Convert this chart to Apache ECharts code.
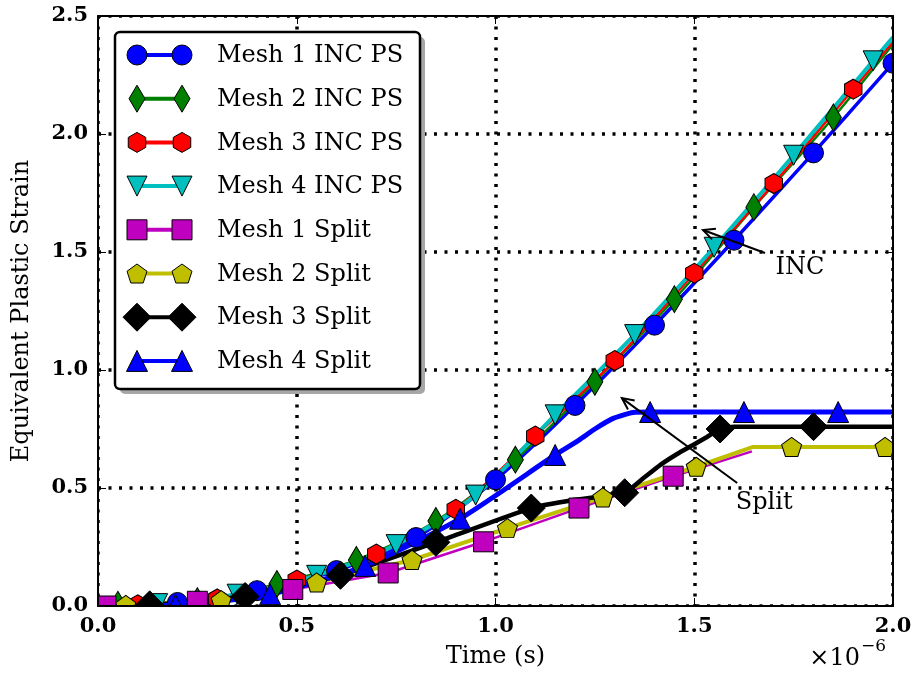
<!DOCTYPE html>
<html>
<head>
<meta charset="utf-8">
<script src="https://cdn.jsdelivr.net/npm/echarts@6/dist/echarts.min.js"></script>
<style>
  html, body { margin: 0; padding: 0; background: #ffffff; }
  #chart { width: 916px; height: 675px; }
</style>
</head>
<body>
<div id="chart"></div>
<script>
// Equivalent plastic strain versus time (time axis in units of 1e-6 s)

const seriesNames = [
  'Mesh 1 INC PS', 'Mesh 2 INC PS', 'Mesh 3 INC PS', 'Mesh 4 INC PS',
  'Mesh 1 Split', 'Mesh 2 Split', 'Mesh 3 Split', 'Mesh 4 Split'
];
const xTickLabels = ['0.0', '0.5', '1.0', '1.5', '2.0'];
const yTickLabels = ['0.0', '0.5', '1.0', '1.5', '2.0', '2.5'];

// Marked samples [time, strain] and further curve samples without a marker
const inc1Marks = [[0, 0], [0.2, 0.015], [0.4, 0.065], [0.6, 0.15], [0.8, 0.29], [1.0, 0.535],
  [1.2, 0.85], [1.4, 1.19], [1.6, 1.55], [1.8, 1.92], [2.0, 2.30]];
const inc1Line = [];
const inc2Marks = [[0.05, 0.005], [0.25, 0.02], [0.45, 0.093], [0.65, 0.195], [0.85, 0.36],
  [1.05, 0.62], [1.25, 0.95], [1.45, 1.30], [1.65, 1.69], [1.85, 2.07]];
const inc2Line = [[0, 0], [2.0, 2.38]];
const inc3Marks = [[0.1, 0.005], [0.3, 0.03], [0.5, 0.11], [0.7, 0.22], [0.9, 0.41],
  [1.1, 0.72], [1.3, 1.04], [1.5, 1.41], [1.7, 1.79], [1.9, 2.19]];
const inc3Line = [[0, 0], [2.0, 2.39]];
const inc4Marks = [[0.15, 0.01], [0.35, 0.05], [0.55, 0.13], [0.75, 0.26], [0.95, 0.47],
  [1.15, 0.81], [1.35, 1.15], [1.55, 1.52], [1.75, 1.91], [1.95, 2.31]];
const inc4Line = [[0, 0], [2.0, 2.41]];
const split1Marks = [[0.02, 0.0], [0.25, 0.02], [0.49, 0.07], [0.73, 0.14], [0.97, 0.272],
  [1.21, 0.415], [1.447, 0.55]];
const split1Line = [[0, 0], [1.645, 0.655]];
const split2Marks = [[0.07, 0.005], [0.31, 0.025], [0.55, 0.10], [0.79, 0.195], [1.03, 0.33],
  [1.27, 0.46], [1.505, 0.59], [1.745, 0.674], [1.98, 0.674]];
const split2Line = [[0, 0], [1.648, 0.674], [2.0, 0.674]];
const split3Marks = [[0.13, 0.005], [0.37, 0.04], [0.61, 0.13], [0.85, 0.27], [1.09, 0.415],
  [1.325, 0.48], [1.565, 0.75], [1.80, 0.76]];
const split3Line = [[0, 0], [1.2, 0.45], [1.371, 0.54], [1.414, 0.597], [1.457, 0.644],
  [1.497, 0.682], [1.532, 0.716], [1.6, 0.76], [2.0, 0.76]];
const split4Marks = [[0.195, 0.003], [0.433, 0.05], [0.672, 0.17], [0.911, 0.37], [1.15, 0.64],
  [1.389, 0.822], [1.625, 0.822], [1.862, 0.822]];
const split4Line = [[0, 0], [1.21, 0.703], [1.25, 0.75], [1.296, 0.795], [1.346, 0.82], [2.0, 0.822]];

// Annotations: label, label position, arrow tail, arrow head
const annoLabels = ['INC', 'Split'];
const annoLabelAt = [[1.766, 1.432], [1.676, 0.436]];
const annoTail = [[1.678, 1.496], [1.608, 0.521]];
const annoHead = [[1.522, 1.593], [1.318, 0.881]];

const markSets = [inc1Marks, inc2Marks, inc3Marks, inc4Marks, split1Marks, split2Marks, split3Marks, split4Marks];
const lineSets = [inc1Line, inc2Line, inc3Line, inc4Line, split1Line, split2Line, split3Line, split4Line];

// Marker outlines (unit coordinates, y pointing down) and their drawn size
const SHAPES = {
  circle:      { pts: null, w: 20, h: 20 },
  thinDiamond: { pts: [[0, -1], [0.6, 0], [0, 1], [-0.6, 0]], w: 16, h: 27 },
  hexagon:     { pts: [[0, -1], [0.866, -0.5], [0.866, 0.5], [0, 1], [-0.866, 0.5], [-0.866, -0.5]], w: 17.5, h: 20 },
  triDown:     { pts: [[-1, -1], [1, -1], [0, 1]], w: 20, h: 20 },
  square:      { pts: [[-1, -1], [1, -1], [1, 1], [-1, 1]], w: 20, h: 20 },
  pentagon:    { pts: [[0, -1], [0.951, -0.309], [0.588, 0.809], [-0.588, 0.809], [-0.951, -0.309]], w: 20, h: 19 },
  diamond:     { pts: [[0, -1], [1, 0], [0, 1], [-1, 0]], w: 28, h: 28 },
  triUp:       { pts: [[0, -1], [1, 1], [-1, 1]], w: 21, h: 21 }
};

const STYLES = [
  { color: '#0000ff', width: 3.5, shape: 'circle',      smooth: 0.3 },
  { color: '#008000', width: 2.5, shape: 'thinDiamond', smooth: 0.3 },
  { color: '#ff0000', width: 2.5, shape: 'hexagon',     smooth: 0.3 },
  { color: '#00bfbf', width: 4,   shape: 'triDown',     smooth: 0.3 },
  { color: '#bf00bf', width: 2.5, shape: 'square',      smooth: false },
  { color: '#bfbf00', width: 4,   shape: 'pentagon',    smooth: false },
  { color: '#000000', width: 4.5, shape: 'diamond',     smooth: 0.15 },
  { color: '#0000ff', width: 5,   shape: 'triUp',       smooth: 0.2 }
];

const FONT = 'DejaVu Serif';

function pathSymbol(pts) {
  return 'path://' + pts.map((p, i) => (i ? 'L' : 'M') + p[0] + ',' + p[1]).join('') + 'Z';
}

function buildData(marks, extra) {
  const items = marks.map(p => ({ value: p }))
    .concat(extra.map(p => ({ value: p, symbol: 'none' })));
  items.sort((a, b) => a.value[0] - b.value[0]);
  return items;
}

const series = seriesNames.map((name, i) => {
  const st = STYLES[i];
  const sh = SHAPES[st.shape];
  return {
    name: name,
    type: 'line',
    xAxisIndex: 0,
    yAxisIndex: 0,
    data: buildData(markSets[i], lineSets[i]),
    smooth: st.smooth,
    showAllSymbol: true,
    symbol: sh.pts ? pathSymbol(sh.pts) : 'circle',
    symbolSize: [sh.w, sh.h],
    lineStyle: { color: st.color, width: st.width },
    itemStyle: { color: st.color, borderColor: '#000000', borderWidth: 1 },
    emphasis: { disabled: true },
    z: 2,
    animation: false
  };
});

const dotted = { color: '#000000', width: 3.5, type: [3, 7.5] };

function valueAxis(extra) {
  return Object.assign({
    type: 'value',
    min: 0,
    axisLine: { show: false },
    axisTick: { show: false },
    axisLabel: { show: false },
    splitLine: { show: false }
  }, extra);
}

const tickStyle = { show: true, inside: true, length: 8, lineStyle: { color: '#000000', width: 1 } };
const spineStyle = { show: true, onZero: false, lineStyle: { color: '#000000', width: 2 } };
const labelStyle = { color: '#000000', fontFamily: FONT, fontWeight: 'bold', fontSize: 21, margin: 10 };
const nameStyle = { fontFamily: FONT, fontSize: 24, color: '#000000' };

const chart = echarts.init(document.getElementById('chart'), null, { renderer: 'canvas' });

chart.setOption({
  animation: false,
  backgroundColor: '#ffffff',
  grid: { left: 98, right: 23, top: 16, bottom: 69, containLabel: false },
  xAxis: [
    // dotted grid, drawn below the curves
    valueAxis({ max: 2, interval: 0.5, position: 'bottom', z: 0,
      splitLine: { show: true, lineStyle: dotted } }),
    // bottom spine, ticks and labels
    valueAxis({ max: 2, interval: 0.5, position: 'bottom', z: 10,
      axisLine: spineStyle, axisTick: tickStyle,
      axisLabel: Object.assign({ show: true, formatter: (v, i) => xTickLabels[i] }, labelStyle),
      name: 'Time (s)', nameLocation: 'middle', nameGap: 39, nameTextStyle: nameStyle }),
    // top spine
    valueAxis({ max: 2, interval: 0.5, position: 'top', z: 10,
      axisLine: spineStyle, axisTick: tickStyle })
  ],
  yAxis: [
    valueAxis({ max: 2.5, interval: 0.5, position: 'left', z: 0,
      splitLine: { show: true, lineStyle: dotted } }),
    valueAxis({ max: 2.5, interval: 0.5, position: 'left', z: 10,
      axisLine: spineStyle, axisTick: tickStyle,
      axisLabel: Object.assign({ show: true, formatter: (v, i) => yTickLabels[i] }, labelStyle),
      name: 'Equivalent Plastic Strain', nameLocation: 'middle', nameGap: 64, nameTextStyle: nameStyle }),
    valueAxis({ max: 2.5, interval: 0.5, position: 'right', z: 10,
      axisLine: spineStyle, axisTick: tickStyle })
  ],
  series: series
});

// ---- overlays: clipping masks, legend box, annotations, offset text ----
const W = 916, H = 675;
const pL = 98, pR = 893, pT = 16, pB = 606;
const g = [];

// white margins hide marker parts that spill outside the plotting area
[[0, 0, pL - 1, H], [pR + 1, 0, W - pR - 1, H], [0, 0, W, pT - 1], [0, pB + 1, W, H - pB - 1]]
  .forEach(r => g.push({ type: 'rect', shape: { x: r[0], y: r[1], width: r[2], height: r[3] },
    style: { fill: '#ffffff' }, z: 5, silent: true }));

function markerEl(kind, color, cx, cy) {
  const sh = SHAPES[kind];
  const style = { fill: color, stroke: '#000000', lineWidth: 1 };
  if (!sh.pts) {
    return { type: 'circle', shape: { cx: cx, cy: cy, r: sh.w / 2 }, style: style, z: 22 };
  }
  const xs = sh.pts.map(p => p[0]), ys = sh.pts.map(p => p[1]);
  const x0 = Math.min(...xs), x1 = Math.max(...xs), y0 = Math.min(...ys), y1 = Math.max(...ys);
  const pts = sh.pts.map(p => [
    cx - sh.w / 2 + (p[0] - x0) / (x1 - x0) * sh.w,
    cy - sh.h / 2 + (p[1] - y0) / (y1 - y0) * sh.h
  ]);
  return { type: 'polygon', shape: { points: pts }, style: style, z: 22 };
}

// legend box with drop shadow
const box = { x: 115, y: 32, w: 305, h: 357 };
g.push({ type: 'rect', shape: { x: box.x + 5, y: box.y + 5, width: box.w, height: box.h, r: 5 },
  style: { fill: '#a6a6a6' }, z: 20 });
g.push({ type: 'rect', shape: { x: box.x, y: box.y, width: box.w, height: box.h, r: 5 },
  style: { fill: '#ffffff', stroke: '#000000', lineWidth: 2.5 }, z: 20 });
const rowY0 = 55, rowStep = 43.7, mkA = 137, mkB = 182, txtX = 217;
seriesNames.forEach((name, i) => {
  const st = STYLES[i];
  const y = rowY0 + i * rowStep;
  g.push({ type: 'line', shape: { x1: mkA, y1: y, x2: mkB, y2: y },
    style: { stroke: st.color, lineWidth: 4 }, z: 21 });
  g.push(markerEl(st.shape, st.color, mkA, y));
  g.push(markerEl(st.shape, st.color, mkB, y));
  g.push({ type: 'text', x: txtX, y: y + 1,
    style: { text: name, font: '24px "' + FONT + '"', fill: '#000000',
      textAlign: 'left', textVerticalAlign: 'middle' }, z: 22 });
});

// annotation arrows and labels
annoLabels.forEach((label, i) => {
  const t = chart.convertToPixel({ gridIndex: 0 }, annoTail[i]);
  const h = chart.convertToPixel({ gridIndex: 0 }, annoHead[i]);
  const c = chart.convertToPixel({ gridIndex: 0 }, annoLabelAt[i]);
  const ang = Math.atan2(t[1] - h[1], t[0] - h[0]);
  const len = 13, spread = 0.45;
  g.push({ type: 'line', shape: { x1: t[0], y1: t[1], x2: h[0], y2: h[1] },
    style: { stroke: '#000000', lineWidth: 2 }, z: 15 });
  g.push({ type: 'polyline', shape: { points: [
      [h[0] + len * Math.cos(ang + spread), h[1] + len * Math.sin(ang + spread)],
      [h[0], h[1]],
      [h[0] + len * Math.cos(ang - spread), h[1] + len * Math.sin(ang - spread)]
    ] }, style: { stroke: '#000000', lineWidth: 2, fill: null }, z: 15 });
  g.push({ type: 'text', x: c[0], y: c[1],
    style: { text: label, font: '24px "' + FONT + '"', fill: '#000000',
      textAlign: 'center', textVerticalAlign: 'middle' }, z: 15 });
});

// scale factor of the time axis
g.push({ type: 'text', x: 860, y: 659,
  style: { text: '\u00d710', font: '24px "' + FONT + '"', fill: '#000000',
    textAlign: 'right', textVerticalAlign: 'middle' }, z: 30 });
g.push({ type: 'text', x: 861, y: 647,
  style: { text: '\u22126', font: '17px "' + FONT + '"', fill: '#000000',
    textAlign: 'left', textVerticalAlign: 'middle' }, z: 30 });

chart.setOption({ graphic: { elements: g } });
</script>
</body>
</html>
